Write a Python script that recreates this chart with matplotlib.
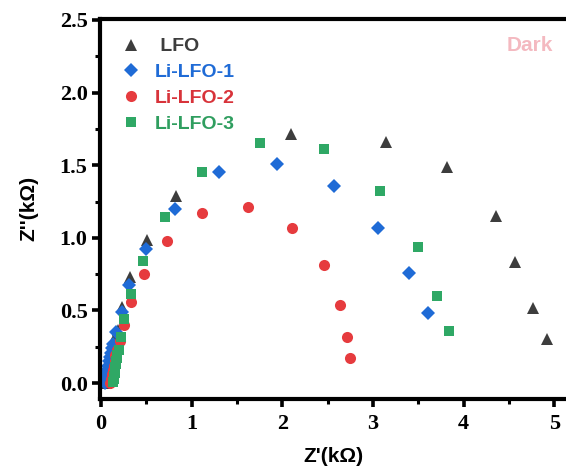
import matplotlib
matplotlib.use('Agg')
import matplotlib.pyplot as plt
from matplotlib.ticker import MultipleLocator

# Nyquist data (Z', Z'') in kOhm
lfo_x = [0.06, 0.07, 0.08, 0.09, 0.10, 0.11, 0.12, 0.13, 0.145, 0.19, 0.23, 0.32,
         0.505, 0.83, 2.10, 3.15, 3.82, 4.36, 4.57, 4.77, 4.92]
lfo_y = [0.00, 0.02, 0.05, 0.09, 0.13, 0.17, 0.21, 0.25, 0.30, 0.365, 0.525, 0.73,
         0.985, 1.29, 1.715, 1.66, 1.485, 1.15, 0.83, 0.52, 0.30]

li1_x = [0.04, 0.05, 0.06, 0.07, 0.08, 0.09, 0.10, 0.11, 0.12, 0.13, 0.17, 0.23,
         0.31, 0.50, 0.82, 1.30, 1.94, 2.57, 3.06, 3.40, 3.61]
li1_y = [0.00, 0.03, 0.06, 0.09, 0.12, 0.15, 0.18, 0.21, 0.24, 0.27, 0.35, 0.49,
         0.675, 0.92, 1.20, 1.45, 1.51, 1.36, 1.07, 0.755, 0.48]

li2_x = [0.10, 0.11, 0.12, 0.13, 0.14, 0.15, 0.16, 0.18, 0.21, 0.25, 0.33, 0.48,
         0.73, 1.12, 1.62, 2.11, 2.46, 2.64, 2.71, 2.75]
li2_y = [0.00, 0.03, 0.06, 0.09, 0.12, 0.15, 0.19, 0.23, 0.29, 0.40, 0.555, 0.75,
         0.98, 1.17, 1.21, 1.065, 0.81, 0.54, 0.32, 0.17]

li3_x = [0.13, 0.14, 0.145, 0.15, 0.155, 0.16, 0.165, 0.17, 0.175, 0.18, 0.20, 0.22,
         0.26, 0.33, 0.46, 0.71, 1.12, 1.75, 2.46, 3.08, 3.50, 3.71, 3.84]
li3_y = [0.01, 0.03, 0.05, 0.07, 0.09, 0.11, 0.13, 0.15, 0.17, 0.19, 0.23, 0.315,
         0.44, 0.61, 0.84, 1.14, 1.45, 1.65, 1.61, 1.32, 0.935, 0.60, 0.36]

labels = [' LFO', 'Li-LFO-1', 'Li-LFO-2', 'Li-LFO-3']
colors = ['#3d3d3d', '#1f6bd6', '#e63b3e', '#2fa865']
text_colors = ['#3d3d3d', '#1f6bd6', '#d8333a', '#2f9e5f']
yticks = [0, 0.5, 1.0, 1.5, 2.0, 2.5]

fig = plt.figure(figsize=(5.66, 4.75), dpi=100)
ax = fig.add_axes([0.1767, 0.16, 0.8233, 0.801])

ax.plot(lfo_x, lfo_y, '^', color=colors[0], ms=8.5, mew=0, label=labels[0])
ax.plot(li1_x, li1_y, 'D', color=colors[1], ms=7, mew=0, label=labels[1])
ax.plot(li2_x, li2_y, 'o', color=colors[2], ms=8, mew=0, label=labels[2])
ax.plot(li3_x, li3_y, 's', color=colors[3], ms=7, mew=0, label=labels[3])

ax.set_xlim(-0.01, 5.13)
ax.set_ylim(-0.11, 2.51)

ax.xaxis.set_major_locator(MultipleLocator(1))
ax.xaxis.set_minor_locator(MultipleLocator(0.5))
ax.yaxis.set_minor_locator(MultipleLocator(0.25))
ax.set_yticks(yticks)
ax.set_yticklabels(['%.1f' % v for v in yticks])

for s in ['left', 'bottom', 'top']:
    ax.spines[s].set_linewidth(3)
ax.spines['right'].set_visible(False)

ax.tick_params(which='major', direction='out', length=6, width=2.6, labelsize=16)
ax.tick_params(axis='x', which='major', pad=5)
ax.tick_params(axis='y', which='major', pad=3)
ax.tick_params(which='minor', direction='out', length=3.5, width=2.2)
for lab in ax.get_xticklabels() + ax.get_yticklabels():
    lab.set_family('Liberation Serif')
    lab.set_fontweight('bold')

ax.set_xlabel("Z'(kΩ)", fontsize=15, fontweight='bold', family='Liberation Sans',
              labelpad=9)
ax.set_ylabel("Z''(kΩ)", fontsize=15, fontweight='bold', family='Liberation Sans',
              labelpad=15)

leg = ax.legend(loc='upper left', bbox_to_anchor=(0.017, 0.985), frameon=False,
                handletextpad=0.7, handlelength=1.0, labelspacing=0.42,
                borderaxespad=0.3,
                prop={'family': 'Liberation Sans', 'weight': 'bold', 'size': 14})
for txt, c in zip(leg.get_texts(), text_colors):
    txt.set_color(c)

ax.text(0.972, 0.93, 'Dark', transform=ax.transAxes, ha='right', va='center',
        color='#f4b9c0', fontsize=15, fontweight='bold', family='Liberation Sans')

fig.savefig('out.png', dpi=100)
